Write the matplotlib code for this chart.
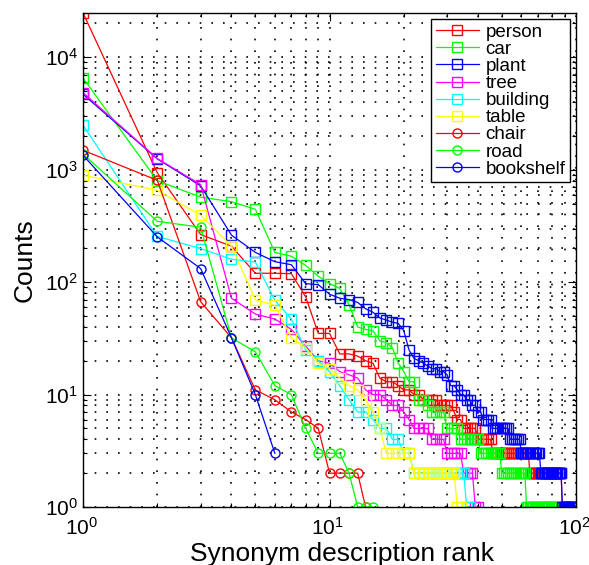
import matplotlib
matplotlib.use("Agg")
import matplotlib.pyplot as plt
import matplotlib.transforms as mtrans
from matplotlib.ticker import LogLocator, NullFormatter, LogFormatterSciNotation

plt.rcParams["font.family"] = ["Liberation Sans", "DejaVu Sans"]
plt.rcParams["mathtext.fontset"] = "custom"
plt.rcParams["mathtext.rm"] = "Liberation Sans"
plt.rcParams["mathtext.it"] = "Liberation Sans:italic"
plt.rcParams["mathtext.bf"] = "Liberation Sans:bold"

# Occurrence counts of each synonym description, sorted by rank (rank 1 first)
person = [24800, 940, 265, 209, 120, 120, 119, 74, 35, 35,
          23, 23, 22, 20, 19, 14, 13, 13, 12, 11,
          11, 10, 10, 9, 9, 9, 9, 8, 8, 8,
          8, 7, 6, 6, 5, 5, 5, 5, 5, 4,
          4, 4, 4, 4, 4, 3, 3, 3, 3, 3,
          3, 3, 3, 3, 3, 3, 3, 3, 3, 3,
          3, 3, 3, 3, 2, 2, 2, 2, 2, 2,
          2, 2, 2, 2, 2, 2, 2, 2, 2, 2,
          2, 2, 2, 2, 2, 2, 2, 1, 1, 1]
car = [6550, 800, 570, 520, 445, 184, 170, 141, 113, 97,
       88, 63, 40, 38, 37, 30, 29, 26, 19, 16,
       13, 13, 9, 9, 8, 7, 7, 7, 7, 5,
       5, 5, 5, 4, 4, 4, 4, 4, 4, 4,
       3, 3, 3, 3, 3, 3, 3, 3, 3, 2,
       2, 2, 2, 2, 2, 2, 2, 2, 2, 2,
       2, 2, 1, 1, 1, 1, 1, 1, 1, 1,
       1, 1, 1, 1, 1, 1, 1, 1, 1, 1,
       1, 1, 1, 1]
plant = [4700, 1250, 720, 262, 184, 152, 143, 97, 95, 78,
         72, 70, 66, 58, 54, 48, 46, 44, 43, 37,
         25, 21, 20, 19, 18, 17, 17, 16, 16, 15,
         12, 12, 11, 10, 10, 9, 9, 8, 8, 7,
         7, 6, 6, 6, 6, 5, 5, 5, 5, 5,
         5, 5, 5, 4, 4, 4, 4, 4, 4, 3,
         3, 3, 3, 3, 3, 3, 3, 3, 3, 3,
         3, 2, 2, 2, 2, 2, 2, 2, 2, 2,
         2, 2, 2, 2, 2, 2, 2, 1, 1, 1,
         1, 1, 1, 1, 1, 1, 1, 1, 1, 1]
tree = [4850, 1260, 738, 72, 52, 47, 38, 27, 20, 19,
        16, 15, 14, 11, 10, 10, 9, 8, 8, 7,
        6, 5, 5, 5, 5, 4, 4, 4, 4, 3,
        3, 3, 3, 3, 2, 2, 2, 2, 1, 1]
building = [2490, 255, 199, 160, 151, 69, 47, 25, 20, 16,
            12, 9, 7, 7, 6, 5, 5, 4, 4, 3,
            3, 2, 2, 2, 2, 2, 2, 2, 2, 2,
            2, 2, 2, 2, 2, 1, 1]
table = [894, 657, 394, 209, 70, 62, 32, 26, 19, 17,
         14, 12, 11, 9, 7, 5, 3, 3, 3, 3,
         3, 2, 2, 2, 2, 2, 2, 2, 2, 2,
         2, 2, 1, 1]
chair = [1490, 806, 67, 32, 11, 9, 7, 6, 5, 2, 2, 2, 2, 1]
road = [1380, 348, 308, 32, 24, 12, 10, 5, 3, 3, 3, 2, 1, 1, 1]
bookshelf = [1345, 253, 132, 32, 10, 3]

labels = ["person", "car", "plant", "tree", "building", "table",
          "chair", "road", "bookshelf"]
series = [person, car, plant, tree, building, table, chair, road, bookshelf]
colors = ["#ff0000", "#00ff00", "#0000ff", "#ff00ff", "#00ffff", "#ffff00",
          "#ff0000", "#00ff00", "#0000ff"]
markers = ["s", "s", "s", "s", "s", "s", "o", "o", "o"]

fig = plt.figure(figsize=(5.89, 5.65), dpi=100)
ax = fig.add_axes([0.141, 0.1027, 0.837, 0.8743])

for lab, ys, c, m in zip(labels, series, colors, markers):
    xs = list(range(1, len(ys) + 1))
    ax.plot(xs, ys, color=c, marker=m, markersize=6.5, markerfacecolor="none",
            markeredgecolor=c, markeredgewidth=1.0, linewidth=0.9, label=lab)

ax.set_xscale("log")
ax.set_yscale("log")
xmax = max(len(s) for s in series)
ymax = max(max(s) for s in series)
ax.set_xlim(1, xmax)
ax.set_ylim(1, ymax)

ax.xaxis.set_major_locator(LogLocator(base=10, numticks=10))
ax.yaxis.set_major_locator(LogLocator(base=10, numticks=10))
ax.xaxis.set_minor_locator(LogLocator(base=10, subs=range(2, 10), numticks=20))
ax.yaxis.set_minor_locator(LogLocator(base=10, subs=range(2, 10), numticks=20))
ax.xaxis.set_major_formatter(LogFormatterSciNotation())
ax.yaxis.set_major_formatter(LogFormatterSciNotation())
ax.xaxis.set_minor_formatter(NullFormatter())
ax.yaxis.set_minor_formatter(NullFormatter())

ax.grid(True, which="both", color="k", linestyle=(0, (1, 6)), linewidth=1.2)
ax.tick_params(which="both", direction="in", top=True, right=True,
               labelsize=15, width=0.8)
ax.tick_params(axis="x", which="major", pad=7)
ax.tick_params(which="major", length=6)
ax.tick_params(which="minor", length=3)
for sp in ax.spines.values():
    sp.set_linewidth(1.0)
    sp.set_color("k")

# nudge the x tick labels slightly left so the last one stays inside the figure
shift = mtrans.ScaledTranslation(-2 / 100, 0, fig.dpi_scale_trans)
for lbl in ax.xaxis.get_majorticklabels():
    lbl.set_transform(lbl.get_transform() + shift)

ax.set_xlabel("Synonym description rank", fontsize=19)
ax.xaxis.set_label_coords(0.525, -0.071)
ax.set_ylabel("Counts", fontsize=19, labelpad=6)

leg = ax.legend(loc="upper right", bbox_to_anchor=(0.988, 0.988),
                borderaxespad=0, fontsize=13.5, frameon=True, fancybox=False,
                edgecolor="k", framealpha=1, handlelength=2.3,
                handletextpad=0.36, labelspacing=0.0, borderpad=0.25)
leg.get_frame().set_linewidth(1.0)

fig.savefig("out.png", dpi=100, facecolor="white")
